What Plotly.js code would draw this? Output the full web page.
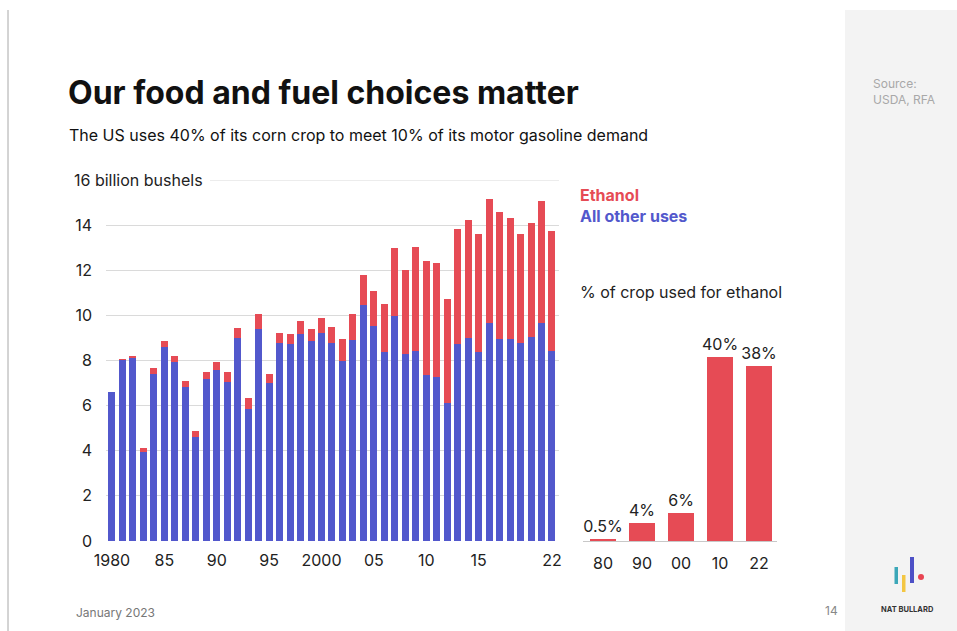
<!DOCTYPE html>
<html>
<head>
<meta charset="utf-8">
<script src="https://cdn.plot.ly/plotly-3.0.1.min.js"></script>
<style>
  html, body { margin: 0; padding: 0; background: #ffffff; }
  #chart { width: 957px; height: 631px; }
</style>
</head>
<body>
<div id="chart"></div>
<script>
// US corn use, billion bushels, by crop year
const years = [1980,1981,1982,1983,1984,1985,1986,1987,1988,1989,1990,1991,1992,1993,1994,1995,1996,1997,1998,1999,
               2000,2001,2002,2003,2004,2005,2006,2007,2008,2009,2010,2011,2012,2013,2014,2015,2016,2017,2018,2019,
               2020,2021,2022];
const otherUses = [6.59,8.02,8.10,3.96,7.38,8.59,7.93,6.81,4.59,7.19,7.56,7.04,9.00,5.85,9.40,6.99,8.77,8.71,9.19,8.86,
                   9.23,8.77,7.96,8.92,10.44,9.51,8.37,9.97,8.30,8.44,7.36,7.29,6.12,8.71,8.99,8.37,9.67,8.96,8.96,8.77,
                   9.04,9.67,8.44];
const ethanol = [0.03,0.05,0.08,0.16,0.28,0.27,0.26,0.30,0.30,0.32,0.37,0.43,0.45,0.48,0.64,0.39,0.46,0.48,0.56,0.55,
                 0.65,0.70,0.99,1.14,1.34,1.59,2.13,3.03,3.73,4.61,5.04,5.01,4.62,5.11,5.23,5.22,5.47,5.63,5.34,4.82,
                 5.05,5.41,5.29];

// Main axis ticks
const yTicks = [0,2,4,6,8,10,12,14,16];
const yTickText = ["0","2","4","6","8","10","12","14",""];
const xTicks = [1980,1985,1990,1995,2000,2005,2010,2015,2022];
const xTickText = ["1980","85","90","95","2000","05","10","15","22"];

// Share of the crop used for ethanol
const shareYears = ["80","90","00","10","22"];
const sharePct = [0.5,4,6,40,38];
const shareLabels = ["0.5%","4%","6%","40%","38%"];

const RED = "#E64B55";
const BLUE = "#5258CC";
const W = 957, H = 631;
const px = v => v / W;
const py = v => 1 - v / H;

const traces = [
  { type: "bar", x: years, y: otherUses, name: "All other uses", marker: { color: BLUE },
    xaxis: "x", yaxis: "y", hoverinfo: "x+y" },
  { type: "bar", x: years, y: ethanol, name: "Ethanol", marker: { color: RED },
    xaxis: "x", yaxis: "y", hoverinfo: "x+y" },
  { type: "bar", x: shareYears, y: sharePct, name: "Share", marker: { color: RED },
    text: shareLabels, textposition: "outside", cliponaxis: false, constraintext: "none",
    textfont: { family: "Inter, sans-serif", size: 16, color: "#222" },
    xaxis: "x2", yaxis: "y2", hoverinfo: "x+y" }
];

const tickFont = { family: "Inter, sans-serif", size: 16, color: "#222" };

const layout = {
  width: W, height: H,
  margin: { l: 0, r: 0, t: 0, b: 0 },
  paper_bgcolor: "#ffffff",
  plot_bgcolor: "rgba(0,0,0,0)",
  showlegend: false,
  barmode: "stack",
  bargap: 0.33,
  font: { family: "Inter, sans-serif", color: "#222" },
  title: {
    text: "Our food and fuel choices matter",
    x: px(68), xanchor: "left", xref: "container",
    y: py(93), yanchor: "middle", yref: "container",
    font: { family: "Inter, sans-serif", size: 32, weight: 700, color: "#111" }
  },
  xaxis: {
    domain: [px(106), px(559)],
    range: [1979.43, 2022.67],
    tickvals: xTicks, ticktext: xTickText,
    tickfont: tickFont, ticks: "", showgrid: false, zeroline: false, showline: false,
    ticklabelstandoff: 8
  },
  yaxis: {
    domain: [py(541), py(180)],
    range: [0, 16],
    tickvals: yTicks, ticktext: yTickText,
    tickfont: tickFont, ticks: "",
    showgrid: true, gridcolor: "#dadada", gridwidth: 1,
    zeroline: false, showline: false,
    ticklabelstandoff: 13
  },
  xaxis2: {
    domain: [px(583), px(777)],
    range: [-0.513, 4.46],
    type: "category",
    anchor: "y2",
    tickfont: tickFont, ticks: "", showgrid: false, zeroline: false,
    showline: true, linecolor: "#c8c8c8", linewidth: 1,
    ticklabelstandoff: 8
  },
  yaxis2: {
    domain: [py(541), py(180)],
    range: [0, 78.5],
    anchor: "x2",
    visible: false
  },
  shapes: [
    // side panel and left rule
    { type: "rect", xref: "paper", yref: "paper", x0: px(845), x1: 1, y0: 0, y1: py(10),
      fillcolor: "#f3f3f3", line: { width: 0 }, layer: "below" },
    { type: "line", xref: "paper", yref: "paper", x0: px(8), x1: px(8), y0: 0, y1: py(10),
      line: { color: "#a8a8a8", width: 1 } },
    // 16 gridline, to the right of its label
    { type: "line", xref: "paper", yref: "y", x0: px(210), x1: px(559), y0: 16, y1: 16,
      line: { color: "#dadada", width: 1 } },
    // logo
    { type: "rect", xref: "paper", yref: "paper", x0: px(894.5), x1: px(898), y0: py(584), y1: py(567),
      fillcolor: "#3BA7B8", line: { width: 0 } },
    { type: "rect", xref: "paper", yref: "paper", x0: px(902), x1: px(905.5), y0: py(592), y1: py(575),
      fillcolor: "#F3C642", line: { width: 0 } },
    { type: "rect", xref: "paper", yref: "paper", x0: px(910), x1: px(914), y0: py(583), y1: py(557),
      fillcolor: "#4D50C6", line: { width: 0 } },
    { type: "circle", xref: "paper", yref: "paper", x0: px(918), x1: px(924), y0: py(580), y1: py(574),
      fillcolor: "#E84452", line: { width: 0 } }
  ],
  annotations: [
    { text: "The US uses 40% of its corn crop to meet 10% of its motor gasoline demand",
      xref: "paper", yref: "paper", x: px(67), y: py(135), xanchor: "left", yanchor: "middle",
      showarrow: false, font: { family: "Inter, sans-serif", size: 16, color: "#111" } },
    { text: "16 billion bushels",
      xref: "paper", yref: "paper", x: px(72), y: py(180), xanchor: "left", yanchor: "middle",
      showarrow: false,
      font: { family: "Inter, sans-serif", size: 16, color: "#222" } },
    { text: "<b>Ethanol</b>",
      xref: "paper", yref: "paper", x: px(578), y: py(195), xanchor: "left", yanchor: "middle",
      showarrow: false, font: { family: "Inter, sans-serif", size: 16, color: RED } },
    { text: "<b>All other uses</b>",
      xref: "paper", yref: "paper", x: px(578), y: py(216), xanchor: "left", yanchor: "middle",
      showarrow: false, font: { family: "Inter, sans-serif", size: 16, color: BLUE } },
    { text: "% of crop used for ethanol",
      xref: "paper", yref: "paper", x: px(578), y: py(292), xanchor: "left", yanchor: "middle",
      showarrow: false, font: { family: "Inter, sans-serif", size: 16, color: "#222" } },
    { text: "Source:<br>USDA, RFA",
      xref: "paper", yref: "paper", x: px(871), y: py(92), xanchor: "left", yanchor: "middle",
      align: "left", showarrow: false,
      font: { family: "Inter, sans-serif", size: 12, color: "#a8a8a8" } },
    { text: "January 2023",
      xref: "paper", yref: "paper", x: px(74), y: py(612), xanchor: "left", yanchor: "middle",
      showarrow: false, font: { family: "Inter, sans-serif", size: 12, color: "#777" } },
    { text: "14",
      xref: "paper", yref: "paper", x: px(831), y: py(610), xanchor: "center", yanchor: "middle",
      showarrow: false, font: { family: "Inter, sans-serif", size: 12, color: "#888" } },
    { text: "<b>NAT BULLARD</b>",
      xref: "paper", yref: "paper", x: px(907), y: py(609), xanchor: "center", yanchor: "middle",
      showarrow: false, font: { family: "Inter, sans-serif", size: 7.5, color: "#333" } }
  ]
};

Plotly.newPlot("chart", traces, layout, { staticPlot: true, displayModeBar: false });
</script>
</body>
</html>
